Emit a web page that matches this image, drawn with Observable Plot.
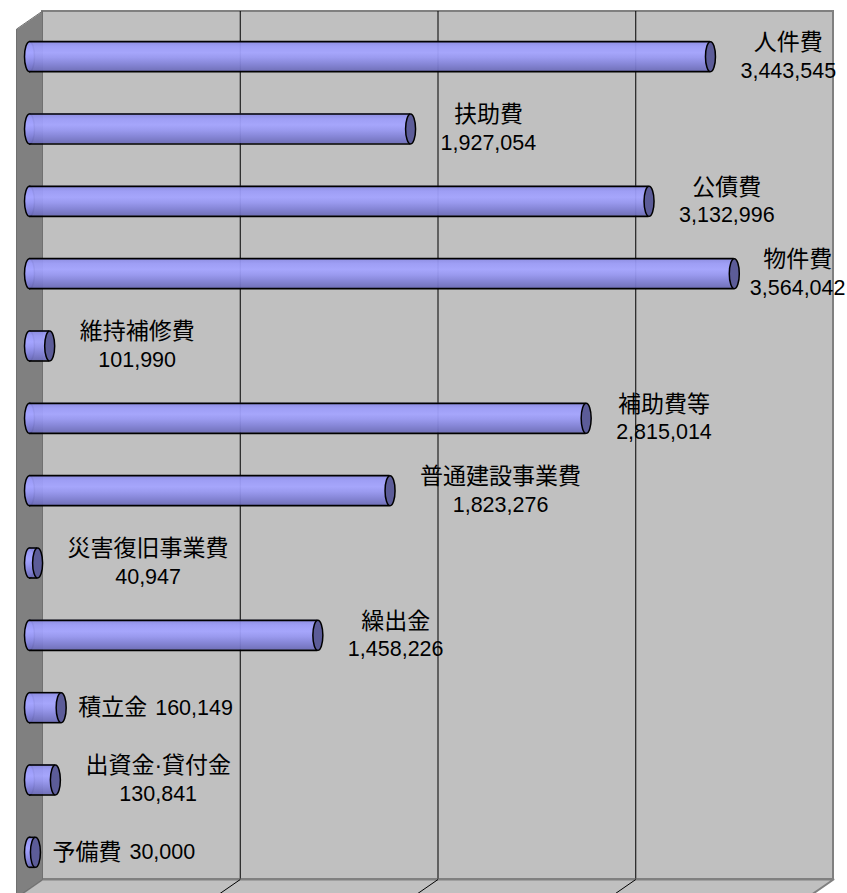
<!DOCTYPE html>
<html>
<head>
<meta charset="utf-8">
<script src="https://cdn.jsdelivr.net/npm/d3@7"></script>
<script src="https://cdn.jsdelivr.net/npm/@observablehq/plot@0.6"></script>
<style>
  html, body { margin: 0; padding: 0; background: #ffffff; overflow: hidden; }
  #chart svg { display: block; }
</style>
</head>
<body>
<div id="chart"></div>
<script>
// ---- data ----
const categories = ["人件費", "扶助費", "公債費", "物件費", "維持補修費", "補助費等", "普通建設事業費", "災害復旧事業費", "繰出金", "積立金", "出資金·貸付金", "予備費"];
const values = [3443545, 1927054, 3132996, 3564042, 101990, 2815014, 1823276, 40947, 1458226, 160149, 130841, 30000];
const valueLabels = ["3,443,545", "1,927,054", "3,132,996", "3,564,042", "101,990", "2,815,014", "1,823,276", "40,947", "1,458,226", "160,149", "130,841", "30,000"];
const twoLineLabel = [true, true, true, true, true, true, true, true, true, false, true, false];
const gridTicks = [1000000, 2000000, 3000000];
const xMax = 4000000;

// ---- layout ----
const W = 847, H = 893;
const mL = 29, mR = 27, mT = 20, mB = 5;
const DX = 13, DY = 9;           // half depth of the 3-D box, px
const barHalf = 15;              // half thickness of a cylinder, px
const nameSize = 23, valueSize = 21.5;
const fontFamily = "'Liberation Sans', Arial, 'Noto Sans CJK JP', sans-serif";

const nRows = categories.length;
const kx = xMax / (W - mL - mR);           // data units per px (x)
const ky = nRows / (H - mT - mB);          // data units per px (y)
const dXd = DX * kx, dYd = DY * ky, hh = barHalf * ky;

// text measuring for label placement
const ctx = document.createElement("canvas").getContext("2d");
const measure = (s, size) => { ctx.font = `${size}px ${fontFamily}`; return ctx.measureText(s).width; };

const rows = categories.map((name, i) => {
  const two = twoLineLabel[i];
  const nameW = measure(name, nameSize), valW = measure(valueLabels[i], valueSize);
  const vx = values[i] / kx;                                  // px from scale origin
  let nameX, valX;
  if (two) {
    const w = Math.max(nameW, valW);
    let cx = vx + 30 + w / 2;
    cx = Math.min(cx, (W - mL) - w / 2 - 2);                  // keep inside picture
    nameX = valX = cx;
  } else {
    const start = vx + 17;
    nameX = start;
    valX = start + nameW + 8;
  }
  return { name, value: values[i], valueLabel: valueLabels[i], row: i + 0.5, two, nameX: nameX * kx, valX: valX * kx };
});
const twoRows = rows.filter(d => d.two), oneRows = rows.filter(d => !d.two);

// 3-D box pieces in data units
const leftWall = [
  { x: dXd, y: -dYd }, { x: dXd, y: nRows - dYd },
  { x: -dXd, y: nRows + dYd }, { x: -dXd, y: dYd }
];
const floor = [
  { x: dXd, y: nRows - dYd }, { x: xMax + dXd, y: nRows - dYd },
  { x: xMax - dXd, y: nRows + dYd }, { x: -dXd, y: nRows + dYd }
];

// ellipse symbol for cylinder ends
const ellipseSymbol = {
  draw(context, size) {
    const ry = Math.sqrt(size / Math.PI), rx = ry / 3, k = 0.5522847498;
    context.moveTo(rx, 0);
    context.bezierCurveTo(rx, ry * k, rx * k, ry, 0, ry);
    context.bezierCurveTo(-rx * k, ry, -rx, ry * k, -rx, 0);
    context.bezierCurveTo(-rx, -ry * k, -rx * k, -ry, 0, -ry);
    context.bezierCurveTo(rx * k, -ry, rx, -ry * k, rx, 0);
    context.closePath();
  }
};

const textCommon = { y: "row", fontFamily: fontFamily, fill: "#000000", lineAnchor: "middle" };

const svg = Plot.plot({
  width: W,
  height: H,
  marginLeft: mL,
  marginRight: mR,
  marginTop: mT,
  marginBottom: mB,
  style: { background: "#ffffff", overflow: "hidden" },
  x: { domain: [0, xMax], axis: null },
  y: { domain: [0, nRows], reverse: true, axis: null },
  marks: [
    // back wall
    Plot.rect([0], { x1: () => 0, x2: () => xMax, y1: () => 0, y2: () => nRows, dx: DX, dy: -DY, fill: "#c0c0c0", stroke: "#808080", strokeWidth: 2 }),
    // gridlines on back wall
    Plot.ruleX(gridTicks, { y1: () => 0, y2: () => nRows, dx: DX, dy: -DY, stroke: "#000000", strokeWidth: 1 }),
    // floor
    Plot.line(floor, { x: "x", y: "y", curve: "linear-closed", fill: "#c0c0c0", stroke: "#808080", strokeWidth: 2 }),
    Plot.link(gridTicks, { x1: d => d + dXd, y1: () => nRows - dYd, x2: d => d - dXd, y2: () => nRows + dYd, stroke: "#000000", strokeWidth: 1 }),
    // left wall
    Plot.line(leftWall, { x: "x", y: "y", curve: "linear-closed", fill: "#808080", stroke: "#707070", strokeWidth: 1 }),
    // cylinders: left end, body, outline, right cap
    Plot.dot(rows, { x: () => 0, y: "row", r: barHalf, symbol: ellipseSymbol, fill: "url(#cylGrad)", stroke: "#000000", strokeWidth: 1.5 }),
    Plot.rect(rows, { x1: () => 0, x2: "value", y1: d => d.row - hh, y2: d => d.row + hh, fill: "url(#cylGrad)", fillOpacity: 0.94 }),
    Plot.ruleY(rows, { y: d => d.row - hh, x1: () => 0, x2: "value", stroke: "#000000", strokeWidth: 1.6 }),
    Plot.ruleY(rows, { y: d => d.row + hh, x1: () => 0, x2: "value", stroke: "#000000", strokeWidth: 1.6 }),
    Plot.dot(rows, { x: "value", y: "row", r: barHalf, symbol: ellipseSymbol, fill: "#5c5c98", stroke: "#000000", strokeWidth: 1.5 }),
    // labels: two-line (name above value)
    Plot.text(twoRows, { ...textCommon, x: "nameX", text: "name", dy: -14, textAnchor: "middle", fontSize: nameSize }),
    Plot.text(twoRows, { ...textCommon, x: "valX", text: "valueLabel", dy: 14, textAnchor: "middle", fontSize: valueSize }),
    // labels: single line (name then value)
    Plot.text(oneRows, { ...textCommon, x: "nameX", text: "name", textAnchor: "start", fontSize: nameSize }),
    Plot.text(oneRows, { ...textCommon, x: "valX", text: "valueLabel", textAnchor: "start", fontSize: valueSize })
  ]
});

// gradient for the cylinder bodies
const defs = d3.select(svg).insert("defs", ":first-child");
const grad = defs.append("linearGradient").attr("id", "cylGrad").attr("x1", 0).attr("y1", 0).attr("x2", 0).attr("y2", 1);
[[0, "#8a8ae2"], [0.18, "#9c9cf8"], [0.38, "#a4a4ff"], [0.55, "#9898f2"], [0.75, "#8484da"], [1, "#6c6cb8"]]
  .forEach(([o, c]) => grad.append("stop").attr("offset", o).attr("stop-color", c));

document.getElementById("chart").appendChild(svg);
</script>
</body>
</html>
